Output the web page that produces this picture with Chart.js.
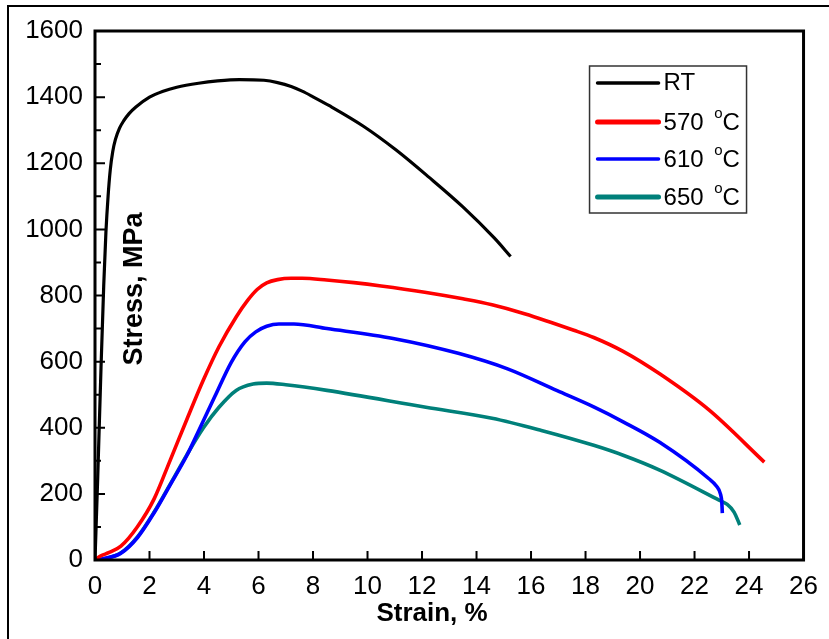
<!DOCTYPE html>
<html>
<head>
<meta charset="utf-8">
<script src="https://cdn.jsdelivr.net/npm/chart.js@4.4.1/dist/chart.umd.min.js"></script>
<style>
  html, body { margin: 0; padding: 0; background: #fff; }
  #wrap { position: relative; width: 829px; height: 639px; }
  canvas { display: block; }
</style>
</head>
<body>
<div id="wrap"><canvas id="c" width="829" height="639"></canvas></div>
<script>
// ---- data ----
const seriesLabels = ["RT", "570", "610", "650"];
const seriesColors = ["#000000", "#ff0000", "#0000ff", "#00807a"];

const rtStrain = [0, 0.1, 0.22, 0.32, 0.4, 0.48, 0.56, 0.65, 0.75, 0.9, 1.05, 1.25, 1.5, 2.0, 2.5, 3.0, 3.8, 4.5, 5.3, 6.2, 6.7, 7.2, 7.6, 8.0, 8.6, 9.85, 11.05, 12.25, 13.5, 14.65, 15.25];
const rtStress = [0, 250, 580, 830, 990, 1100, 1180, 1235, 1272, 1306, 1328, 1350, 1370, 1400, 1418, 1430, 1442, 1449, 1453, 1451, 1444, 1432, 1418, 1401, 1374, 1312, 1240, 1158, 1068, 974, 918];

const s570Strain = [0, 0.2, 0.5, 0.95, 1.55, 2.17, 2.75, 3.37, 3.98, 4.55, 5.18, 5.6, 5.95, 6.3, 6.7, 7.2, 7.6, 8.5, 9.5, 10.5, 12.1, 13.5, 14.57, 15.76, 17.57, 18.3, 19.38, 20.72, 22.54, 24.56];
const s570Stress = [0, 12, 22, 42, 100, 185, 300, 425, 545, 645, 735, 785, 818, 838, 848, 852, 852, 847, 839, 829, 810, 790, 772, 745, 695, 673, 631, 563, 453, 296];

const s610Strain = [0, 0.3, 0.94, 1.56, 2.17, 2.75, 3.37, 3.8, 4.4, 5.0, 5.5, 5.9, 6.3, 6.75, 7.3, 8.51, 10.94, 13.33, 15.14, 16.96, 18.3, 19.38, 20.72, 22.54, 22.8, 22.95, 23.0, 23.02];
const s610Stress = [0, 4, 20, 68, 143, 226, 316, 390, 495, 598, 660, 690, 707, 714, 714, 700, 670, 625, 578, 512, 463, 418, 356, 245, 224, 200, 175, 142];

const s650Strain = [0, 0.3, 0.94, 1.56, 2.17, 2.75, 3.37, 3.98, 4.55, 5.18, 5.8, 6.3, 7.0, 8.51, 12.14, 14.57, 16.38, 18.3, 19.38, 20.72, 22.9, 23.2, 23.45, 23.66];
const s650Stress = [0, 3, 21, 70, 145, 228, 318, 400, 462, 513, 532, 535, 530, 513, 462, 429, 392, 347, 317, 272, 181, 168, 145, 106];

const xMin = 0, xMax = 26, xStep = 2;
const yMin = 0, yMax = 1600, yStep = 200, yMinorStep = 100;
const xTitle = "Strain, %";
const yTitle = "Stress, MPa";

// ---- build datasets ----
const strains = [rtStrain, s570Strain, s610Strain, s650Strain];
const stresses = [rtStress, s570Stress, s610Stress, s650Stress];
const datasets = seriesLabels.map((lab, i) => ({
  label: lab,
  data: strains[i].map((x, k) => ({ x: x, y: stresses[i][k] })),
  borderColor: seriesColors[i],
  backgroundColor: seriesColors[i],
  borderWidth: i === 0 ? 3.2 : 3.6,
  pointRadius: 0,
  fill: false,
  cubicInterpolationMode: 'monotone'
}));

const FONT = '"Liberation Sans", Arial, Helvetica, sans-serif';

const decor = {
  id: 'decor',
  afterDatasetsDraw(chart) {
    const ctx = chart.ctx;
    const a = chart.chartArea;
    const xs = chart.scales.x, ys = chart.scales.y;
    ctx.save();
    // outer figure frame (top and left edges)
    ctx.strokeStyle = '#000';
    ctx.lineWidth = 2;
    ctx.beginPath();
    ctx.moveTo(8, 639); ctx.lineTo(8, 6); ctx.lineTo(829, 6);
    ctx.stroke();

    // plot frame
    ctx.lineWidth = 3;
    ctx.strokeRect(a.left, a.top, a.right - a.left, a.bottom - a.top);

    // inward ticks
    ctx.lineWidth = 2;
    ctx.beginPath();
    for (let v = xMin + xStep; v < xMax; v += xStep) {
      const px = xs.getPixelForValue(v);
      ctx.moveTo(px, a.bottom); ctx.lineTo(px, a.bottom - 9);
    }
    for (let v = yMin + yMinorStep; v < yMax; v += yMinorStep) {
      const py = ys.getPixelForValue(v);
      const len = (v % yStep === 0) ? 10 : 6;
      ctx.moveTo(a.left, py); ctx.lineTo(a.left + len, py);
    }
    ctx.stroke();

    // axis titles
    ctx.fillStyle = '#000';
    ctx.font = 'bold 26px ' + FONT;
    ctx.textAlign = 'center';
    ctx.textBaseline = 'middle';
    ctx.fillText(xTitle, 432, 614);
    ctx.save();
    ctx.translate(a.left + 40, 289);
    ctx.rotate(-Math.PI / 2);
    ctx.font = 'bold 27px ' + FONT;
    ctx.fillText(yTitle, 0, 0);
    ctx.restore();

    // legend
    const bx = a.right - 214, by = a.top + 35, bw = 157, bh = 147;
    ctx.lineWidth = 1.5;
    ctx.strokeStyle = '#333';
    ctx.strokeRect(bx, by, bw, bh);
    const rowY = [17, 56, 93, 131];
    const lw = [3.5, 5, 3.5, 5];
    seriesLabels.forEach((lab, i) => {
      const y = by + rowY[i];
      ctx.strokeStyle = seriesColors[i];
      ctx.lineWidth = lw[i];
      ctx.lineCap = 'round';
      ctx.beginPath();
      ctx.moveTo(bx + 8, y); ctx.lineTo(bx + 69, y);
      ctx.stroke();
      ctx.fillStyle = '#000';
      ctx.textAlign = 'left';
      ctx.textBaseline = 'middle';
      ctx.font = '24px ' + FONT;
      const tx = bx + 74;
      if (i === 0) {
        ctx.fillText(lab, tx, y);
      } else {
        const base = lab + ' ';
        ctx.fillText(base, tx, y + 1);
        let w = ctx.measureText(base).width + 4;
        ctx.font = '15px ' + FONT;
        ctx.fillText('o', tx + w, y - 8);
        w += ctx.measureText('o').width;
        ctx.font = '24px ' + FONT;
        ctx.fillText('C', tx + w, y + 1);
      }
    });
    ctx.restore();
  }
};

new Chart(document.getElementById('c'), {
  type: 'line',
  data: { datasets: datasets },
  options: {
    responsive: false,
    animation: false,
    devicePixelRatio: 1,
    layout: { padding: { top: 31, right: 16, left: 0, bottom: 0 } },
    plugins: { legend: { display: false }, tooltip: { enabled: false }, title: { display: false } },
    scales: {
      x: {
        type: 'linear',
        min: xMin, max: xMax,
        ticks: { stepSize: xStep, color: '#000', font: { family: FONT, size: 26 }, padding: 11, maxRotation: 0, callback: v => String(v) },
        grid: { display: false, drawTicks: false },
        border: { display: false },
        afterFit(s) { s.height = 79; }
      },
      y: {
        type: 'linear',
        min: yMin, max: yMax,
        ticks: { stepSize: yStep, color: '#000', font: { family: FONT, size: 26 }, padding: 12, callback: v => String(v) },
        grid: { display: false, drawTicks: false },
        border: { display: false },
        afterFit(s) { s.width = 95; }
      }
    }
  },
  plugins: [decor]
});
</script>
</body>
</html>
